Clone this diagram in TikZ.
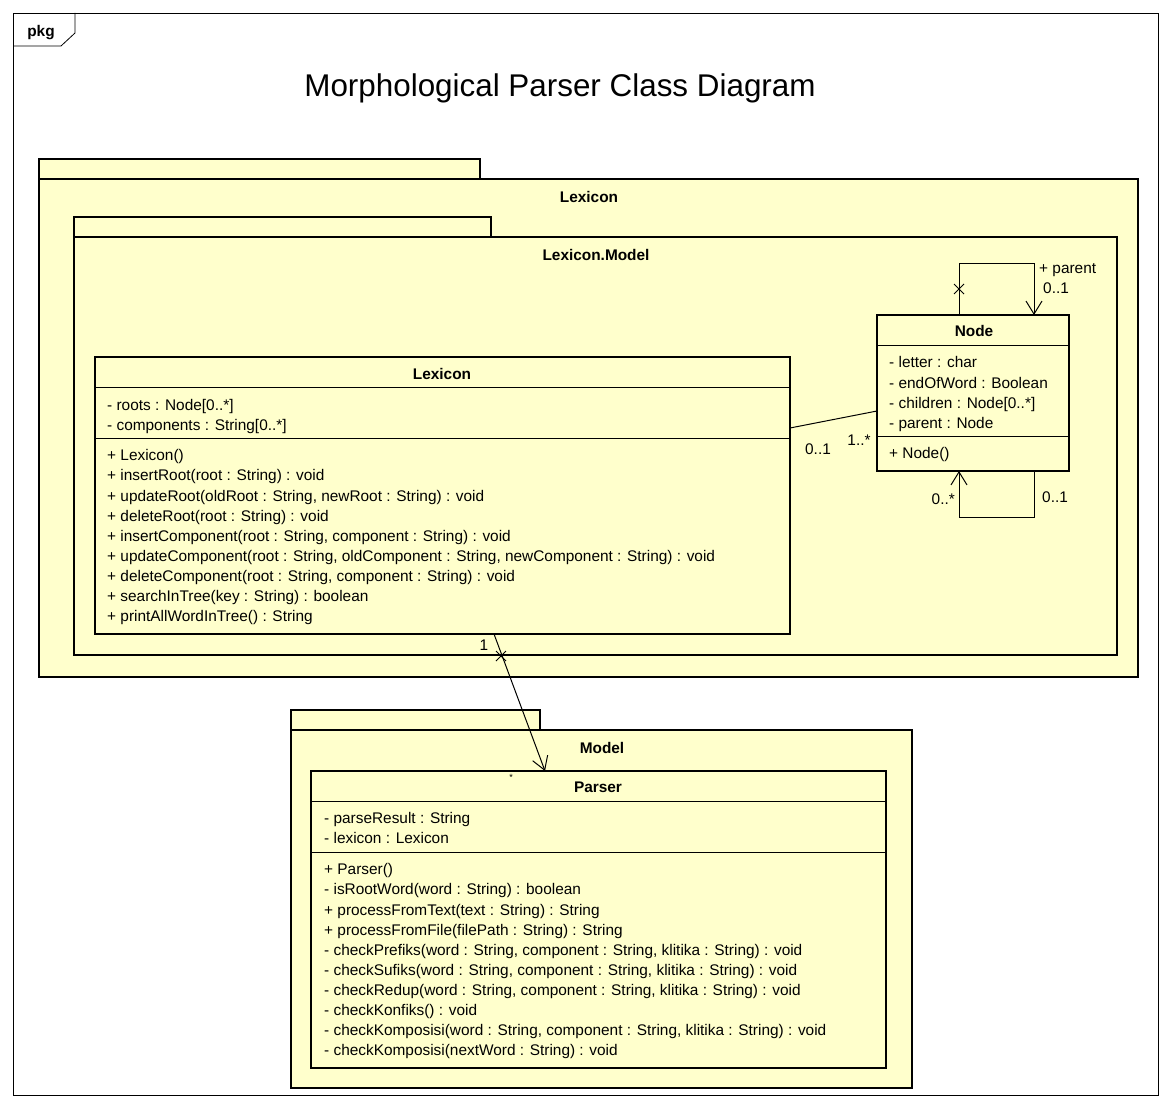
\documentclass[tikz,border=0pt]{standalone}
\usepackage{fontspec}
\setmainfont{Liberation Sans}
\usetikzlibrary{arrows.meta,calc}
\definecolor{pkgfill}{RGB}{255,255,204}
\begin{document}
\begin{tikzpicture}[x=1pt,y=-1pt,
  pkgline/.style={draw=black,line width=2.9pt,fill=pkgfill},
  clsbox/.style={draw=black,line width=2.9pt,fill=pkgfill,inner sep=0pt,outer sep=0pt,anchor=north west},
  divider/.style={draw=black,line width=1pt},
  mem/.style={anchor=west,inner sep=0pt,yshift=-1.8pt,text height=11pt,text depth=3pt,font=\fontsize{15.4}{18}\selectfont},
  lbl/.style={inner sep=0pt,yshift=-1.8pt,text height=11pt,text depth=3pt,font=\fontsize{15.4}{18}\selectfont},
  bold/.style={lbl,font=\fontsize{15.4}{18}\selectfont\bfseries},
  assoc/.style={draw=black,line width=1pt},
  openarrow/.style={-{Straight Barb[length=13pt,width=16pt,line width=1pt]}},
  xmark/.style={draw=black,line width=1pt}
]
\useasboundingbox (0,0) rectangle (1172,1108);
\fill[white] (0,0) rectangle (1172,1108);

% outer frame
\draw[line width=0.8pt] (13,13) rectangle (1158,1095);
\draw[line width=0.8pt] (13,46) -- (61,46) -- (75,33) -- (75,13);
\node[bold] (pkglbl) at (41,31) {pkg};

% title
\node[inner sep=0pt,font=\fontsize{31.4}{36}\selectfont] (title) at (560,88) {Morphological Parser Class Diagram};

% Lexicon package
\draw[pkgline] (39,159) rectangle (480,179);
\draw[pkgline] (39,179) rectangle (1138,677);
\node[bold] (pkgLex) at (589,197) {Lexicon};

% Lexicon.Model package
\draw[pkgline] (74,217) rectangle (491,237);
\draw[pkgline] (74,237) rectangle (1117,655);
\node[bold] (pkgLexModel) at (596,255) {Lexicon.Model};

% Model package
\draw[pkgline] (291,710) rectangle (540,730);
\draw[pkgline] (291,730) rectangle (912,1088);
\node[bold] (pkgModel) at (602,748) {Model};

% Lexicon class
\node[clsbox,minimum width=695pt,minimum height=277pt] (lex) at (95,357) {};
\node[bold] (lexT) at (442,374) {Lexicon};
\draw[divider] (lex.west |- 0,387) -- (lex.east |- 0,387);
\draw[divider] (lex.west |- 0,438) -- (lex.east |- 0,438);
\foreach \t [count=\i from 0] in {{- roots : Node[0..*]},{- components : String[0..*]}}
  \node[mem] (la\i) at (107,405+20.1*\i) {\t};
\foreach \t [count=\i from 0] in {{+ Lexicon()},{+ insertRoot(root : String) : void},{+ updateRoot(oldRoot : String, newRoot : String) : void},{+ deleteRoot(root : String) : void},{+ insertComponent(root : String, component : String) : void},{+ updateComponent(root : String, oldComponent : String, newComponent : String) : void},{+ deleteComponent(root : String, component : String) : void},{+ searchInTree(key : String) : boolean},{+ printAllWordInTree() : String}}
  \node[mem] (lm\i) at (107,455+20.1*\i) {\t};

% Node class
\node[clsbox,minimum width=192pt,minimum height=156pt] (nodecls) at (877,315) {};
\node[bold] (nodeT) at (974,331) {Node};
\draw[divider] (nodecls.west |- 0,345) -- (nodecls.east |- 0,345);
\draw[divider] (nodecls.west |- 0,436) -- (nodecls.east |- 0,436);
\foreach \t [count=\i from 0] in {{- letter : char},{- endOfWord : Boolean},{- children : Node[0..*]},{- parent : Node}}
  \node[mem] (na\i) at (889,362+20.3*\i) {\t};
\node[mem] (nm0) at (889,453) {+ Node()};

% Parser class
\node[clsbox,minimum width=575pt,minimum height=297pt] (parser) at (311,771) {};
\node[bold] (parserT) at (598,787) {Parser};
\draw[divider] (parser.west |- 0,801) -- (parser.east |- 0,801);
\draw[divider] (parser.west |- 0,852) -- (parser.east |- 0,852);
\foreach \t [count=\i from 0] in {{- parseResult : String},{- lexicon : Lexicon}}
  \node[mem] (pa\i) at (324,818+20.1*\i) {\t};
\foreach \t [count=\i from 0] in {{+ Parser()},{- isRootWord(word : String) : boolean},{+ processFromText(text : String) : String},{+ processFromFile(filePath : String) : String},{- checkPrefiks(word : String, component : String, klitika : String) : void},{- checkSufiks(word : String, component : String, klitika : String) : void},{- checkRedup(word : String, component : String, klitika : String) : void},{- checkKonfiks() : void},{- checkKomposisi(word : String, component : String, klitika : String) : void},{- checkKomposisi(nextWord : String) : void}}
  \node[mem] (pm\i) at (324,869+20.1*\i) {\t};

% Lexicon -- Node association
\draw[assoc] (lex.east |- 0,428) -- (nodecls.west |- 0,411);
\node[lbl] (lnA) at (818,449) {0..1};
\node[lbl] (lnB) at (859,440) {1..*};

% Node self association (top, parent)
\draw[assoc,openarrow] (nodecls.north -| 959,0) |- (1034,263) -- (nodecls.north -| 1034,0);
\draw[xmark] (954,284) -- (964,294) (954,294) -- (964,284);
\node[lbl,anchor=west] (parLbl) at (1039,268) {+ parent};
\node[lbl,anchor=west] (parMul) at (1043,288) {0..1};

% Node self association (bottom)
\draw[assoc,openarrow] (nodecls.south -| 1034,0) |- (959,517) -- (nodecls.south -| 959,0);
\node[lbl,anchor=east] (chMul) at (955,499) {0..*};
\node[lbl,anchor=west] (paMul2) at (1042,497) {0..1};

% Lexicon -- Parser association
\draw[assoc,openarrow] (lex.south -| 494,0) -- (parser.north -| 545,0);
\draw[xmark] (496,651) -- (506,661) (496,661) -- (506,651);
\node[lbl] (lpA) at (484,645) {1};
\node[inner sep=0pt,font=\fontsize{9}{10}\selectfont] (lpB) at (511,777) {*};
\end{tikzpicture}
\end{document}
